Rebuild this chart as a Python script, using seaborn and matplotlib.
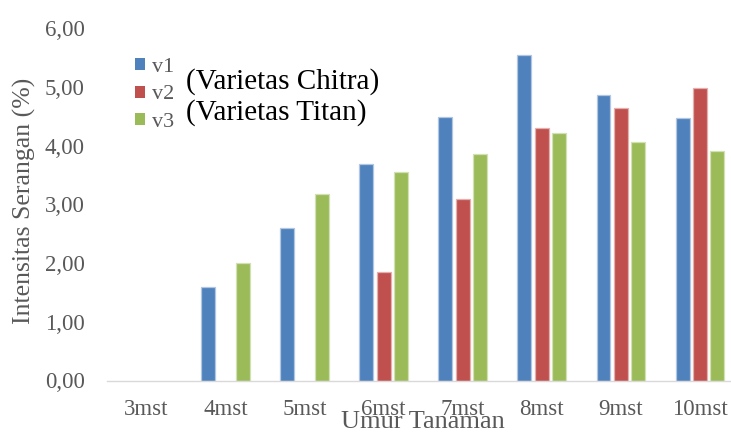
import matplotlib
matplotlib.use("Agg")
import matplotlib.pyplot as plt
import matplotlib.colors as mcolors
import numpy as np
import pandas as pd
import seaborn as sns

# Attack intensity (%) per plant age, for three varieties
umur = ["3mst", "4mst", "5mst", "6mst", "7mst", "8mst", "9mst", "10mst"]
v1 = [0.00, 1.59, 2.60, 3.69, 4.49, 5.54, 4.86, 4.47]
v2 = [0.00, 0.00, 0.00, 1.85, 3.09, 4.30, 4.65, 4.98]
v3 = [0.00, 2.00, 3.17, 3.56, 3.86, 4.21, 4.07, 3.91]
series_names = ["v1", "v2", "v3"]
y_ticks = [0, 1, 2, 3, 4, 5, 6]
y_tick_labels = ["0,00", "1,00", "2,00", "3,00", "4,00", "5,00", "6,00"]
notes = ["(Varietas Chitra)", "(Varietas Titan)"]

colors = ["#4F81BD", "#C0504D", "#9BBB59"]
gray = "#595959"

df = pd.DataFrame({
    "Umur Tanaman": umur * 3,
    "Intensitas": v1 + v2 + v3,
    "Varietas": [s for s in series_names for _ in umur],
})

sns.set_theme(style="white")
plt.rcParams["font.family"] = ["Liberation Serif", "DejaVu Serif"]

fig = plt.figure(figsize=(7.31, 4.32), dpi=100)
ax = fig.add_axes([107 / 731, (432 - 380.5) / 432, 632.5 / 731, 352.2 / 432])

sns.barplot(data=df, x="Umur Tanaman", y="Intensitas", hue="Varietas",
            order=umur, hue_order=series_names, palette=colors, saturation=1,
            width=0.66, gap=0.2, errorbar=None, ax=ax, legend=True)

# light outline around each bar
for p in ax.patches:
    if p.get_height() <= 0:
        p.set_linewidth(0)
        continue
    fc = np.array(mcolors.to_rgb(p.get_facecolor()))
    p.set_edgecolor(tuple(fc + (1 - fc) * 0.55))
    p.set_linewidth(0.9)

ax.set_ylim(0, 6)
ax.set_xlim(-0.5, len(umur) - 0.5)
ax.set_yticks(y_ticks)
ax.set_yticklabels(y_tick_labels)
ax.tick_params(axis="y", length=0, pad=16, labelsize=16.5, labelcolor=gray)
ax.tick_params(axis="x", length=0, pad=13.5, labelsize=16.5, labelcolor=gray)

for side in ["left", "right", "top"]:
    ax.spines[side].set_visible(False)
ax.spines["bottom"].set_color("#D9D9D9")
ax.spines["bottom"].set_linewidth(1.0)
ax.grid(False)

ax.set_xlabel("Umur Tanaman", fontsize=19, color=gray, va="top")
ax.xaxis.set_label_coords(0.5, -0.088)
ax.set_ylabel("Intensitas Serangan (%)", fontsize=18.5, color=gray)
ax.yaxis.set_label_coords(-0.112, 0.51)

handles, labels = ax.get_legend_handles_labels()
leg = ax.legend(handles, labels, loc="upper left",
                bbox_to_anchor=(135 / 731, 1 - 58 / 432),
                bbox_transform=fig.transFigure, frameon=False,
                fontsize=16, handlelength=0.45, handleheight=0.45,
                handletextpad=0.3, labelspacing=0.38, borderpad=0,
                borderaxespad=0)
for t in leg.get_texts():
    t.set_color(gray)

fig.text(186 / 731, 1 - 82 / 432, notes[0], fontsize=21, color="black",
         ha="left", va="center")
fig.text(186 / 731, 1 - 113 / 432, notes[1], fontsize=21, color="black",
         ha="left", va="center")

fig.savefig("out.png", dpi=100)
